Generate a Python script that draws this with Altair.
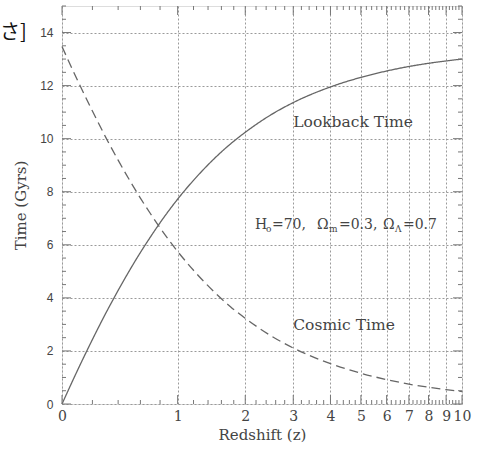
import altair as alt
import pandas as pd

# ---- data ----
z_vals = [0, 0.1, 0.2, 0.3, 0.4, 0.5, 0.6, 0.7, 0.8, 0.9, 1.0, 1.2, 1.5, 1.75,
          2.0, 2.5, 3, 4, 5, 6, 7, 8, 9, 10]
lookback = [0, 1.30, 2.43, 3.42, 4.28, 5.04, 5.71, 6.30, 6.83, 7.30, 7.72, 8.43,
            9.27, 9.81, 10.24, 10.90, 11.36, 11.95, 12.31, 12.55, 12.72, 12.84,
            12.93, 13.00]
cosmic = [13.47, 12.17, 11.04, 10.05, 9.19, 8.43, 7.76, 7.17, 6.64, 6.17, 5.75,
          5.04, 4.20, 3.66, 3.23, 2.57, 2.11, 1.52, 1.16, 0.92, 0.75, 0.63, 0.54,
          0.47]
series_names = ["Lookback Time", "Cosmic Time"]

x_tick_labels = [0, 1, 2, 3, 4, 5, 6, 7, 8, 9, 10]
x_minor = [round(i * 0.2, 1) for i in range(1, 50) if i % 5 != 0]
y_tick_labels = [0, 2, 4, 6, 8, 10, 12, 14]
y_minor = [i * 0.5 for i in range(1, 31) if i % 4 != 0]
stray_text = ["さ", "]"]

W, H = 400, 398
TXT = "#444444"
LINE = "#666666"
GRID = "#9a9a9a"
SERIF = "DejaVu Serif"

rows = []
for z, lb, ct in zip(z_vals, lookback, cosmic):
    rows.append({"zp1": 1 + z, "t": lb, "series": series_names[0]})
    rows.append({"zp1": 1 + z, "t": ct, "series": series_names[1]})
df = pd.DataFrame(rows)

x_scale = alt.Scale(type="log", domain=[1, 11], nice=False)
y_scale = alt.Scale(domain=[0, 15], nice=False, zero=False)

x_axis = alt.Axis(values=[v + 1 for v in x_tick_labels], labelExpr="datum.value - 1",
                  title="Redshift (z)", grid=True, gridDash=[2, 2], gridColor=GRID,
                  gridWidth=1, domain=False, ticks=False, labelFont=SERIF,
                  labelFontSize=14, labelColor=TXT, labelPadding=5, labelFlush=False,
                  labelOverlap=False, titleFont=SERIF, titleFontSize=15,
                  titleFontWeight="normal", titleColor=TXT, titlePadding=4)
y_axis = alt.Axis(values=y_tick_labels, title="Time (Gyrs)", grid=True,
                  gridDash=[2, 2], gridColor=GRID, gridWidth=1, domain=False,
                  ticks=False, labelFont="Liberation Sans", labelFontSize=12,
                  labelColor=TXT, labelPadding=9, labelFlush=False,
                  labelOverlap=False, titleFont=SERIF, titleFontSize=15,
                  titleFontWeight="normal", titleColor=TXT, titlePadding=11)

X = alt.X("zp1:Q", scale=x_scale, axis=x_axis)
Y = alt.Y("t:Q", scale=y_scale, axis=y_axis)

lines = alt.Chart(df).mark_line(color=LINE, strokeWidth=1.3, interpolate="monotone").encode(
    x=X, y=Y,
    strokeDash=alt.StrokeDash("series:N", scale=alt.Scale(domain=series_names,
                              range=[[1, 0], [9, 5]]), legend=None),
    detail="series:N",
)

layers = [lines]

# tick marks on all four sides
xmaj_df = pd.DataFrame({"zp1": [v + 1 for v in x_tick_labels]})
xmin_df = pd.DataFrame({"zp1": [v + 1 for v in x_minor]})
ymaj_df = pd.DataFrame({"t": y_tick_labels})
ymin_df = pd.DataFrame({"t": y_minor})
for d, L in [(xmaj_df, 9), (xmin_df, 4)]:
    for y0, y1 in [(H, H - L), (0, L)]:
        layers.append(alt.Chart(d).mark_rule(color="#777777", strokeWidth=1).encode(
            x=X, y=alt.value(y0), y2=alt.value(y1)))
for d, L in [(ymaj_df, 9), (ymin_df, 4)]:
    for x0, x1 in [(0, L), (W, W - L)]:
        layers.append(alt.Chart(d).mark_rule(color="#777777", strokeWidth=1).encode(
            y=Y, x=alt.value(x0), x2=alt.value(x1)))

# annotations
ann_df = pd.DataFrame({"zp1": [4.0, 4.0], "t": [10.62, 2.98], "label": series_names})
layers.append(alt.Chart(ann_df).mark_text(align="left", baseline="middle", font=SERIF,
                                          fontSize=15.5, color=TXT).encode(
    x=X, y=Y, text="label:N"))

param_segments = [("H", 0, 0, 14), ("o", 11, 4, 9), ("=70,", 17, 0, 14),
                  ("Ω", 62, 0, 14), ("m", 74, 4, 9), ("=0.3,", 84, 0, 14),
                  ("Ω", 128, 0, 14), ("Λ", 140, 4, 9), ("=0.7", 148, 0, 14)]
param_pos = pd.DataFrame({"zp1": [3.18], "t": [6.74]})
for txt, dx, dy, fs in param_segments:
    layers.append(alt.Chart(param_pos).mark_text(align="left", baseline="middle",
                                                 font=SERIF, fontSize=fs, color=TXT,
                                                 dx=dx, dy=dy, text=txt).encode(
        x=X, y=Y))

# stray cropped text at the top-left corner of the reference
for ch, dx in zip(stray_text, [0, 20]):
    layers.append(alt.Chart(pd.DataFrame({"s": [ch]})).mark_text(
        align="left", baseline="middle", angle=0, dx=dx, font="Noto Sans CJK SC",
        fontSize=20, color="#111111").encode(
        x=alt.value(-62), y=alt.value(27), text="s:N"))

chart = alt.layer(*layers).properties(
    width=W, height=H,
    autosize=alt.AutoSizeParams(type="none"),
    padding={"left": 62, "top": 6, "right": 15, "bottom": 46},
).configure_view(stroke="#777777", strokeWidth=1.5).configure(background="white")

chart.save("out.html", embed_options={"renderer": "svg", "actions": False})
